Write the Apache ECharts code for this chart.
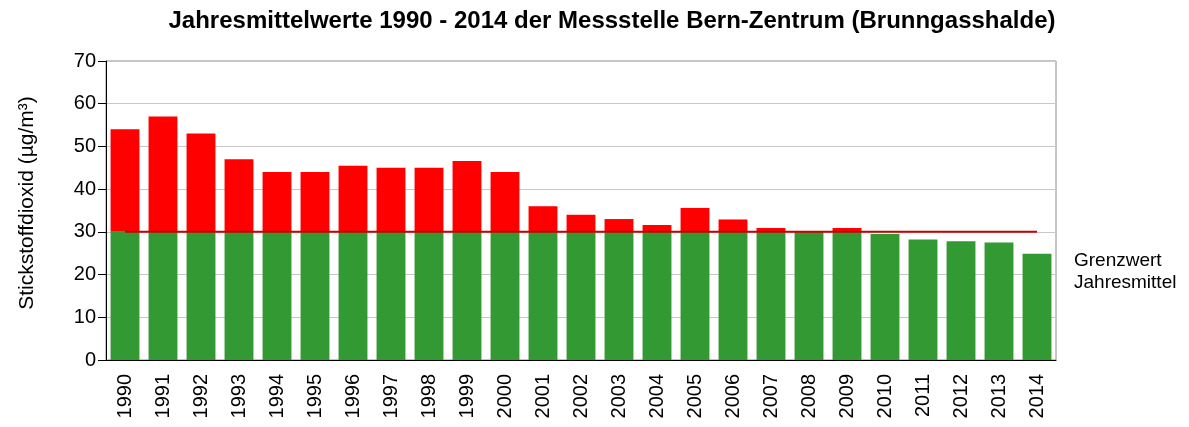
<!DOCTYPE html>
<html>
<head>
<meta charset="utf-8">
<script src="https://cdn.jsdelivr.net/npm/echarts@6/dist/echarts.min.js"></script>
<style>
html,body{margin:0;padding:0;background:#fff;}
#chart{width:1189px;height:427px;}
</style>
</head>
<body>
<div id="chart"></div>
<script>
const years = ['1990','1991','1992','1993','1994','1995','1996','1997','1998','1999','2000','2001','2002','2003','2004','2005','2006','2007','2008','2009','2010','2011','2012','2013','2014'];
const no2Values = [54, 57, 53, 47, 44, 44, 45.5, 45, 45, 46.6, 44, 36, 34, 33, 31.6, 35.6, 32.9, 30.9, 30.2, 30.9, 29.5, 28.2, 27.8, 27.5, 24.9];
const grenzwertLine = [30,30,30,30,30,30,30,30,30,30,30,30,30,30,30,30,30,30,30,30,30,30,30,30,30];
const yTicks = [0, 10, 20, 30, 40, 50, 60, 70];
const titleText = 'Jahresmittelwerte 1990 - 2014 der Messstelle Bern-Zentrum (Brunngasshalde)';
const yAxisName = 'Stickstoffdioxid (µg/m³)';
const legendLines = ['Grenzwert', 'Jahresmittel'];

const below = no2Values.map((v, i) => Math.min(v, grenzwertLine[i]));
const above = no2Values.map((v, i) => Math.max(v - grenzwertLine[i], 0));

const FONT = "'Liberation Sans', Arial, sans-serif";
const chart = echarts.init(document.getElementById('chart'), null, {renderer: 'canvas'});
chart.setOption({
  animation: false,
  backgroundColor: '#ffffff',
  textStyle: {fontFamily: FONT},
  title: {
    text: titleText,
    left: 607,
    top: 4,
    textAlign: 'center',
    textStyle: {fontFamily: FONT, fontSize: 24, fontWeight: 'bold', color: '#000'}
  },
  grid: {
    left: 106, right: 133, top: 61, bottom: 67,
    show: true, borderColor: '#8c8c8c', borderWidth: 1
  },
  xAxis: {
    type: 'category',
    data: years,
    axisLine: {show: true, lineStyle: {color: '#000', width: 1}},
    axisTick: {show: false},
    axisLabel: {rotate: 90, fontSize: 20, color: '#000', fontFamily: FONT, margin: 14, interval: 0}
  },
  yAxis: {
    type: 'value',
    min: yTicks[0],
    max: yTicks[yTicks.length - 1],
    interval: 10,
    axisLine: {show: true, lineStyle: {color: '#000', width: 1}},
    axisTick: {show: true, inside: false, length: 8, lineStyle: {color: '#000'}},
    axisLabel: {fontSize: 20, color: '#000', fontFamily: FONT, margin: 10},
    splitLine: {show: true, lineStyle: {color: '#c8c8c8', width: 1}}
  },
  series: [
    {
      name: 'unter Grenzwert',
      type: 'bar',
      stack: 'no2',
      data: below,
      barCategoryGap: '24%',
      itemStyle: {color: '#339933'},
      z: 2
    },
    {
      name: 'über Grenzwert',
      type: 'bar',
      stack: 'no2',
      data: above,
      barCategoryGap: '24%',
      itemStyle: {color: '#ff0000'},
      z: 2
    },
    {
      name: 'Grenzwert',
      type: 'line',
      data: grenzwertLine,
      symbol: 'none',
      lineStyle: {color: '#cc0000', width: 2},
      z: 5
    }
  ],
  graphic: [
    {
      type: 'text',
      x: 27,
      y: 203,
      rotation: Math.PI / 2,
      style: {
        text: yAxisName,
        fontSize: 21,
        fontFamily: FONT,
        fill: '#000',
        align: 'center',
        verticalAlign: 'middle'
      }
    },
    {
      type: 'line',
      shape: {x1: 98, y1: 360.5, x2: 106, y2: 360.5},
      style: {stroke: '#000', lineWidth: 1}
    },
    {
      type: 'text',
      left: 1074,
      top: 250,
      style: {
        text: legendLines.join('\n'),
        fontSize: 19,
        lineHeight: 22,
        fontFamily: FONT,
        fill: '#000'
      }
    }
  ]
});
</script>
</body>
</html>
